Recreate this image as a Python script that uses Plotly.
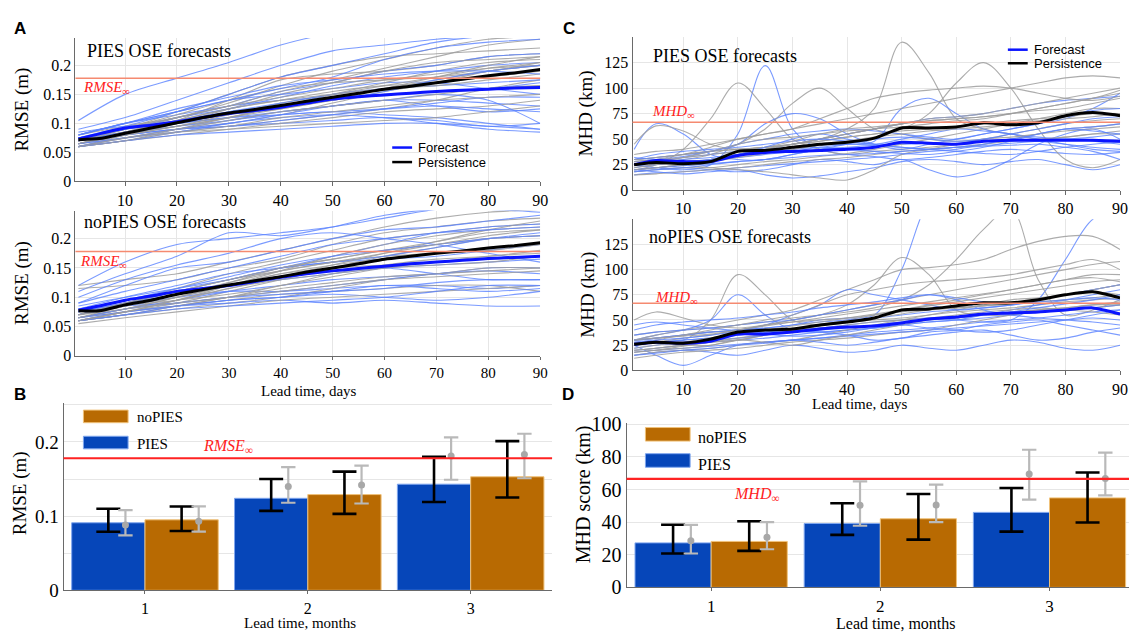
import plotly.graph_objects as go

W, H = 1137, 642

# ============================ DATA ============================
DAYS_MEAN = [1, 5, 10, 15, 20, 25, 30, 35, 40, 45, 50, 55, 60, 65, 70, 75, 80, 85, 90]
DAYS_RMSE_MEMBER = [1, 10, 20, 30, 40, 50, 60, 70, 80, 90]
DAYS_MHD_MEMBER = [1, 5, 10, 15, 20, 25, 30, 35, 40, 45, 50, 55, 60, 65, 70, 75, 80, 85, 90]
X_TICKS_DAYS = [10, 20, 30, 40, 50, 60, 70, 80, 90]

RMSE_INF = 0.178
MHD_INF = 66.5

# ---- Panel A, PIES OSE (RMSE, m) ----
A_PIES_FORECAST = [0.073, 0.082, 0.092, 0.097, 0.103, 0.110, 0.117, 0.122, 0.128, 0.135,
                   0.142, 0.146, 0.149, 0.152, 0.155, 0.157, 0.159, 0.161, 0.162]
A_PIES_PERSIST = [0.072, 0.074, 0.083, 0.092, 0.101, 0.110, 0.118, 0.124, 0.131, 0.138,
                  0.145, 0.152, 0.159, 0.164, 0.170, 0.176, 0.182, 0.187, 0.193]
A_PIES_FC_MEMBERS = [
    [0.105, 0.150, 0.178, 0.205, 0.235, 0.255, 0.26, 0.26, 0.26, 0.26],
    [0.090, 0.110, 0.140, 0.170, 0.200, 0.225, 0.235, 0.245, 0.250, 0.250],
    [0.075, 0.095, 0.120, 0.150, 0.180, 0.200, 0.220, 0.240, 0.250, 0.250],
    [0.070, 0.090, 0.110, 0.130, 0.155, 0.170, 0.190, 0.200, 0.215, 0.220],
    [0.080, 0.100, 0.120, 0.140, 0.150, 0.160, 0.170, 0.170, 0.160, 0.150],
    [0.065, 0.080, 0.095, 0.105, 0.120, 0.130, 0.140, 0.140, 0.135, 0.130],
    [0.070, 0.085, 0.100, 0.110, 0.115, 0.120, 0.115, 0.110, 0.100, 0.090],
    [0.060, 0.075, 0.085, 0.095, 0.100, 0.105, 0.110, 0.100, 0.090, 0.085],
    [0.080, 0.100, 0.115, 0.130, 0.140, 0.145, 0.150, 0.155, 0.160, 0.170],
    [0.065, 0.080, 0.090, 0.100, 0.115, 0.130, 0.140, 0.130, 0.120, 0.125],
    [0.075, 0.090, 0.110, 0.125, 0.145, 0.165, 0.180, 0.190, 0.200, 0.205],
    [0.070, 0.080, 0.090, 0.095, 0.105, 0.115, 0.125, 0.135, 0.145, 0.145],
    [0.085, 0.095, 0.100, 0.110, 0.120, 0.130, 0.140, 0.150, 0.140, 0.100],
    [0.060, 0.070, 0.080, 0.085, 0.090, 0.095, 0.100, 0.100, 0.095, 0.090],
    [0.080, 0.100, 0.120, 0.140, 0.160, 0.180, 0.210, 0.230, 0.240, 0.245],
    [0.070, 0.085, 0.100, 0.120, 0.135, 0.150, 0.160, 0.165, 0.170, 0.175],
    [0.065, 0.075, 0.090, 0.105, 0.115, 0.120, 0.125, 0.130, 0.125, 0.120],
    [0.075, 0.090, 0.105, 0.120, 0.130, 0.140, 0.155, 0.175, 0.190, 0.200],
    [0.060, 0.070, 0.085, 0.100, 0.110, 0.115, 0.110, 0.105, 0.095, 0.100],
    [0.080, 0.100, 0.125, 0.145, 0.165, 0.175, 0.185, 0.190, 0.190, 0.185],
]
A_PIES_PS_MEMBERS = [
    [0.065, 0.085, 0.110, 0.135, 0.165, 0.190, 0.210, 0.230, 0.245, 0.250],
    [0.070, 0.090, 0.120, 0.150, 0.180, 0.200, 0.215, 0.220, 0.225, 0.230],
    [0.060, 0.080, 0.105, 0.140, 0.175, 0.185, 0.190, 0.200, 0.215, 0.220],
    [0.065, 0.080, 0.100, 0.125, 0.150, 0.170, 0.190, 0.205, 0.210, 0.215],
    [0.070, 0.085, 0.095, 0.110, 0.130, 0.150, 0.170, 0.190, 0.205, 0.210],
    [0.060, 0.075, 0.090, 0.100, 0.115, 0.135, 0.155, 0.170, 0.190, 0.200],
    [0.065, 0.080, 0.090, 0.095, 0.105, 0.115, 0.125, 0.140, 0.160, 0.175],
    [0.075, 0.090, 0.100, 0.115, 0.125, 0.140, 0.150, 0.155, 0.160, 0.165],
    [0.060, 0.070, 0.080, 0.090, 0.100, 0.110, 0.120, 0.125, 0.130, 0.140],
    [0.070, 0.085, 0.105, 0.125, 0.140, 0.155, 0.165, 0.170, 0.180, 0.190],
    [0.065, 0.075, 0.085, 0.090, 0.095, 0.100, 0.105, 0.110, 0.120, 0.130],
    [0.080, 0.095, 0.110, 0.130, 0.155, 0.175, 0.195, 0.215, 0.235, 0.245],
    [0.060, 0.070, 0.090, 0.110, 0.130, 0.145, 0.160, 0.175, 0.190, 0.200],
    [0.070, 0.090, 0.115, 0.140, 0.160, 0.170, 0.175, 0.180, 0.190, 0.205],
    [0.065, 0.080, 0.095, 0.115, 0.135, 0.150, 0.165, 0.180, 0.195, 0.205],
    [0.070, 0.090, 0.110, 0.130, 0.145, 0.160, 0.175, 0.185, 0.195, 0.200],
    [0.060, 0.075, 0.090, 0.105, 0.120, 0.130, 0.140, 0.150, 0.160, 0.165],
    [0.065, 0.085, 0.105, 0.125, 0.140, 0.150, 0.160, 0.165, 0.175, 0.185],
    [0.070, 0.080, 0.095, 0.110, 0.125, 0.140, 0.160, 0.180, 0.200, 0.215],
    [0.060, 0.070, 0.085, 0.095, 0.110, 0.120, 0.130, 0.140, 0.145, 0.150],
]

# ---- Panel A, noPIES OSE (RMSE, m) ----
A_NOPIES_FORECAST = [0.078, 0.085, 0.095, 0.102, 0.110, 0.115, 0.120, 0.127, 0.134, 0.140,
                     0.145, 0.149, 0.153, 0.157, 0.160, 0.163, 0.166, 0.168, 0.170]
A_NOPIES_PERSIST = [0.077, 0.077, 0.087, 0.095, 0.105, 0.113, 0.121, 0.128, 0.135, 0.143,
                    0.150, 0.157, 0.165, 0.170, 0.175, 0.179, 0.184, 0.188, 0.193]
A_NOPIES_FC_MEMBERS = [
    [0.120, 0.160, 0.190, 0.200, 0.210, 0.220, 0.235, 0.250, 0.255, 0.260],
    [0.110, 0.140, 0.170, 0.210, 0.205, 0.220, 0.240, 0.250, 0.250, 0.245],
    [0.090, 0.120, 0.150, 0.160, 0.180, 0.200, 0.215, 0.220, 0.230, 0.240],
    [0.070, 0.090, 0.110, 0.130, 0.150, 0.170, 0.190, 0.210, 0.220, 0.225],
    [0.080, 0.100, 0.120, 0.140, 0.150, 0.160, 0.165, 0.170, 0.180, 0.190],
    [0.065, 0.080, 0.095, 0.110, 0.120, 0.130, 0.135, 0.140, 0.150, 0.150],
    [0.070, 0.085, 0.100, 0.110, 0.110, 0.115, 0.120, 0.120, 0.115, 0.120],
    [0.060, 0.075, 0.085, 0.090, 0.095, 0.090, 0.095, 0.090, 0.085, 0.085],
    [0.075, 0.095, 0.110, 0.120, 0.135, 0.145, 0.150, 0.140, 0.130, 0.130],
    [0.065, 0.075, 0.085, 0.095, 0.100, 0.105, 0.100, 0.095, 0.100, 0.110],
    [0.085, 0.100, 0.115, 0.130, 0.150, 0.160, 0.170, 0.185, 0.200, 0.210],
    [0.070, 0.085, 0.090, 0.100, 0.110, 0.120, 0.130, 0.140, 0.145, 0.140],
    [0.100, 0.130, 0.155, 0.175, 0.200, 0.210, 0.200, 0.190, 0.175, 0.160],
    [0.060, 0.070, 0.080, 0.085, 0.090, 0.095, 0.100, 0.110, 0.120, 0.120],
    [0.075, 0.090, 0.105, 0.120, 0.130, 0.140, 0.150, 0.155, 0.160, 0.165],
    [0.065, 0.080, 0.090, 0.100, 0.105, 0.110, 0.115, 0.125, 0.130, 0.130],
    [0.080, 0.095, 0.115, 0.135, 0.155, 0.170, 0.180, 0.190, 0.200, 0.205],
    [0.060, 0.070, 0.085, 0.095, 0.100, 0.110, 0.120, 0.115, 0.110, 0.115],
    [0.090, 0.110, 0.130, 0.150, 0.170, 0.190, 0.200, 0.210, 0.215, 0.220],
]
A_NOPIES_PS_MEMBERS = [
    [0.120, 0.130, 0.140, 0.160, 0.180, 0.200, 0.220, 0.235, 0.245, 0.250],
    [0.115, 0.120, 0.130, 0.150, 0.165, 0.190, 0.210, 0.220, 0.230, 0.235],
    [0.070, 0.090, 0.115, 0.140, 0.160, 0.180, 0.200, 0.210, 0.220, 0.225],
    [0.065, 0.080, 0.100, 0.125, 0.150, 0.165, 0.180, 0.195, 0.210, 0.215],
    [0.060, 0.075, 0.090, 0.110, 0.130, 0.150, 0.170, 0.185, 0.200, 0.205],
    [0.070, 0.085, 0.095, 0.105, 0.120, 0.140, 0.155, 0.165, 0.170, 0.180],
    [0.060, 0.070, 0.080, 0.090, 0.100, 0.115, 0.130, 0.140, 0.150, 0.150],
    [0.065, 0.075, 0.085, 0.095, 0.105, 0.110, 0.115, 0.120, 0.120, 0.110],
    [0.075, 0.090, 0.110, 0.130, 0.145, 0.160, 0.170, 0.175, 0.180, 0.190],
    [0.060, 0.070, 0.085, 0.100, 0.120, 0.135, 0.150, 0.160, 0.165, 0.170],
    [0.065, 0.080, 0.095, 0.115, 0.135, 0.155, 0.175, 0.195, 0.215, 0.230],
    [0.055, 0.065, 0.075, 0.085, 0.095, 0.100, 0.105, 0.110, 0.115, 0.120],
    [0.070, 0.085, 0.100, 0.120, 0.140, 0.150, 0.155, 0.160, 0.170, 0.175],
    [0.060, 0.075, 0.095, 0.120, 0.145, 0.170, 0.190, 0.205, 0.215, 0.220],
    [0.065, 0.080, 0.100, 0.120, 0.140, 0.155, 0.165, 0.175, 0.185, 0.190],
    [0.070, 0.090, 0.110, 0.130, 0.150, 0.165, 0.180, 0.190, 0.200, 0.205],
    [0.060, 0.070, 0.085, 0.100, 0.115, 0.125, 0.135, 0.140, 0.145, 0.150],
    [0.065, 0.085, 0.105, 0.125, 0.145, 0.160, 0.175, 0.190, 0.205, 0.215],
    [0.070, 0.080, 0.090, 0.100, 0.110, 0.120, 0.130, 0.135, 0.140, 0.145],
    [0.060, 0.075, 0.095, 0.115, 0.130, 0.140, 0.150, 0.155, 0.160, 0.170],
]

# ---- Panel C, PIES OSE (MHD, km) ----
C_PIES_FORECAST = [25, 29, 28, 28, 34, 37, 38, 39, 40, 42, 47, 46, 45, 48, 49, 49, 49, 49, 48]
C_PIES_PERSIST = [25, 27, 26, 28, 38, 39, 42, 45, 47, 51, 61, 61, 62, 66, 64, 66, 73, 76, 73]
C_PIES_FC_MEMBERS = [
    [25, 22, 20, 25, 55, 122, 60, 40, 35, 33, 30, 32, 35, 38, 40, 38, 36, 35, 37],
    [40, 65, 55, 35, 30, 30, 35, 40, 42, 44, 45, 46, 45, 44, 46, 48, 50, 52, 55],
    [30, 32, 35, 38, 45, 65, 75, 70, 55, 45, 40, 45, 50, 55, 60, 65, 70, 80, 95],
    [20, 22, 25, 30, 35, 40, 45, 50, 55, 60, 65, 70, 72, 75, 80, 85, 88, 90, 92],
    [18, 20, 22, 20, 18, 20, 25, 30, 28, 25, 30, 20, 13, 18, 30, 45, 55, 60, 50],
    [22, 25, 28, 30, 32, 35, 38, 42, 45, 48, 80, 90, 75, 60, 55, 52, 50, 48, 45],
    [25, 28, 32, 35, 38, 40, 42, 44, 45, 44, 42, 40, 38, 36, 35, 38, 42, 45, 47],
    [15, 17, 18, 20, 22, 24, 26, 28, 30, 32, 35, 38, 40, 45, 50, 55, 60, 62, 65],
    [28, 30, 33, 38, 45, 50, 55, 58, 60, 58, 55, 52, 50, 55, 60, 65, 72, 78, 80],
    [20, 18, 16, 18, 20, 15, 12, 14, 18, 22, 28, 30, 28, 25, 28, 30, 25, 20, 25],
    [30, 35, 38, 40, 42, 45, 48, 50, 48, 45, 50, 55, 60, 58, 55, 50, 45, 40, 38],
    [18, 20, 22, 25, 28, 30, 32, 34, 35, 36, 38, 40, 42, 43, 44, 45, 42, 38, 30],
    [25, 27, 30, 32, 35, 38, 40, 42, 40, 38, 36, 35, 38, 42, 48, 55, 60, 58, 55],
    [20, 22, 24, 26, 28, 30, 35, 40, 45, 50, 52, 50, 48, 50, 55, 60, 65, 70, 72],
    [32, 30, 28, 30, 35, 42, 50, 55, 50, 45, 42, 40, 42, 45, 50, 48, 45, 42, 40],
]
C_PIES_PS_MEMBERS = [
    [30, 32, 35, 38, 40, 42, 45, 50, 60, 80, 145, 115, 70, 60, 55, 50, 52, 55, 58],
    [20, 25, 40, 70, 105, 80, 50, 40, 35, 38, 40, 42, 45, 48, 50, 55, 60, 62, 65],
    [25, 28, 30, 35, 45, 60, 85, 100, 80, 60, 55, 50, 48, 50, 55, 60, 65, 68, 70],
    [30, 32, 35, 38, 40, 42, 45, 48, 52, 55, 60, 75, 105, 125, 100, 60, 30, 22, 30],
    [45, 63, 58, 45, 40, 42, 45, 48, 52, 55, 58, 60, 62, 65, 68, 70, 72, 75, 75],
    [25, 30, 35, 42, 50, 55, 60, 65, 70, 75, 80, 85, 90, 95, 100, 105, 110, 112, 110],
    [20, 22, 25, 30, 35, 40, 45, 50, 55, 60, 65, 70, 72, 75, 80, 85, 90, 95, 100],
    [18, 20, 22, 22, 25, 28, 30, 33, 36, 40, 45, 50, 55, 60, 65, 70, 75, 80, 80],
    [15, 16, 18, 20, 22, 25, 28, 30, 32, 35, 38, 40, 42, 45, 48, 50, 52, 55, 55],
    [22, 25, 28, 30, 35, 40, 45, 50, 55, 60, 65, 68, 70, 72, 75, 78, 80, 85, 90],
    [30, 28, 25, 22, 20, 18, 15, 12, 10, 20, 35, 40, 45, 50, 52, 55, 58, 60, 62],
    [35, 38, 40, 45, 50, 55, 60, 70, 80, 90, 95, 98, 100, 102, 100, 95, 90, 88, 92],
    [28, 30, 32, 35, 38, 42, 48, 55, 60, 62, 65, 68, 70, 72, 75, 80, 85, 90, 95],
    [20, 22, 25, 28, 32, 36, 40, 44, 48, 52, 55, 58, 60, 62, 65, 68, 70, 72, 75],
    [25, 28, 32, 38, 45, 50, 52, 55, 58, 60, 62, 65, 68, 70, 75, 80, 85, 90, 98],
]

# ---- Panel C, noPIES OSE (MHD, km) ----
C_NOPIES_FORECAST = [26, 28, 27, 29, 36, 36, 38, 41, 43, 44, 47, 51, 53, 56, 57, 58, 60, 62, 56]
C_NOPIES_PERSIST = [26, 28, 27, 31, 38, 40, 41, 45, 48, 52, 60, 61, 64, 67, 67, 70, 75, 78, 72]
C_NOPIES_FC_MEMBERS = [
    [30, 32, 35, 38, 40, 42, 45, 50, 52, 55, 100, 170, 200, 200, 200, 200, 200, 200, 200],
    [25, 28, 30, 32, 35, 38, 40, 42, 45, 48, 50, 52, 50, 48, 50, 70, 110, 150, 160],
    [30, 35, 40, 50, 75, 55, 40, 38, 40, 42, 45, 48, 50, 52, 55, 58, 60, 62, 65],
    [25, 15, 5, 15, 25, 28, 30, 32, 35, 38, 40, 42, 45, 48, 50, 52, 55, 58, 60],
    [45, 48, 45, 42, 40, 45, 55, 65, 80, 75, 70, 65, 60, 62, 65, 70, 75, 80, 85],
    [20, 22, 25, 28, 30, 32, 35, 38, 40, 42, 45, 48, 50, 55, 60, 65, 70, 75, 80],
    [15, 18, 20, 18, 15, 20, 25, 22, 18, 20, 25, 22, 20, 25, 30, 28, 22, 20, 25],
    [35, 38, 40, 42, 45, 48, 50, 55, 60, 65, 70, 75, 72, 68, 65, 70, 75, 80, 85],
    [25, 28, 30, 32, 35, 38, 40, 38, 35, 30, 32, 38, 40, 45, 48, 50, 45, 40, 35],
    [30, 32, 35, 38, 40, 42, 45, 48, 50, 52, 55, 58, 60, 62, 65, 68, 70, 72, 70],
    [18, 20, 22, 24, 26, 28, 30, 32, 34, 36, 38, 40, 42, 44, 46, 48, 50, 52, 50],
    [40, 45, 48, 50, 52, 55, 58, 62, 65, 68, 72, 75, 70, 60, 55, 52, 50, 48, 45],
    [22, 25, 28, 30, 32, 35, 38, 40, 42, 45, 48, 50, 52, 55, 58, 62, 66, 70, 75],
    [28, 30, 32, 35, 38, 36, 34, 35, 38, 42, 45, 42, 40, 38, 40, 45, 50, 55, 60],
    [15, 17, 20, 22, 25, 27, 30, 28, 25, 28, 32, 35, 38, 40, 35, 30, 32, 38, 42],
]
C_NOPIES_PS_MEMBERS = [
    [25, 28, 30, 50, 95, 75, 50, 45, 48, 50, 52, 55, 58, 60, 62, 65, 68, 70, 72],
    [30, 32, 35, 38, 40, 45, 50, 55, 65, 85, 112, 95, 60, 55, 55, 58, 60, 62, 65],
    [35, 38, 40, 42, 45, 48, 52, 55, 58, 62, 70, 85, 110, 140, 160, 90, 55, 60, 70],
    [30, 35, 40, 45, 50, 55, 60, 70, 80, 90, 100, 102, 105, 110, 120, 128, 133, 133, 120],
    [25, 28, 32, 35, 40, 45, 50, 55, 60, 65, 70, 75, 80, 85, 90, 95, 100, 105, 108],
    [20, 22, 25, 28, 30, 35, 40, 45, 50, 55, 60, 65, 70, 75, 80, 85, 90, 95, 95],
    [15, 18, 20, 22, 25, 28, 30, 35, 40, 45, 50, 55, 60, 65, 70, 72, 75, 78, 75],
    [12, 15, 18, 20, 22, 25, 28, 30, 32, 35, 38, 40, 45, 50, 55, 60, 62, 65, 65],
    [50, 58, 52, 45, 42, 45, 48, 50, 52, 55, 58, 60, 62, 64, 66, 68, 70, 72, 75],
    [20, 22, 25, 25, 30, 35, 40, 42, 45, 48, 50, 52, 55, 58, 60, 62, 60, 58, 55],
    [25, 30, 35, 40, 45, 50, 55, 65, 75, 80, 85, 88, 90, 92, 95, 100, 105, 110, 100],
    [18, 20, 22, 25, 30, 28, 25, 30, 35, 40, 45, 50, 52, 55, 58, 60, 62, 65, 68],
    [22, 25, 28, 32, 36, 40, 44, 48, 52, 56, 60, 64, 68, 72, 76, 80, 84, 88, 90],
    [18, 20, 24, 28, 32, 36, 40, 44, 48, 52, 56, 60, 62, 64, 66, 70, 75, 80, 85],
    [30, 32, 34, 36, 40, 44, 48, 52, 56, 60, 64, 68, 72, 76, 80, 85, 90, 92, 88],
]

# ---- Panel B (RMSE, m) by lead month ----
MONTHS = [1, 2, 3]
B_PIES_VALUE = [0.091, 0.124, 0.143]
B_PIES_HI = [0.110, 0.150, 0.180]
B_PIES_LO = [0.079, 0.107, 0.119]
B_NOPIES_VALUE = [0.095, 0.129, 0.153]
B_NOPIES_HI = [0.113, 0.160, 0.201]
B_NOPIES_LO = [0.080, 0.103, 0.125]
B_PIES_PERS = [0.088, 0.140, 0.181]
B_PIES_PERS_HI = [0.108, 0.166, 0.206]
B_PIES_PERS_LO = [0.074, 0.118, 0.149]
B_NOPIES_PERS = [0.093, 0.142, 0.183]
B_NOPIES_PERS_HI = [0.113, 0.168, 0.211]
B_NOPIES_PERS_LO = [0.079, 0.117, 0.151]

# ---- Panel D (MHD score, km) by lead month ----
D_PIES_VALUE = [27.3, 39.2, 46.0]
D_PIES_HI = [38.4, 51.6, 61.0]
D_PIES_LO = [20.8, 32.2, 34.2]
D_NOPIES_VALUE = [28.2, 42.1, 54.9]
D_NOPIES_HI = [40.6, 57.3, 70.5]
D_NOPIES_LO = [22.4, 29.3, 39.8]
D_PIES_PERS = [28.6, 50.4, 69.6]
D_PIES_PERS_HI = [38.4, 65.0, 84.4]
D_PIES_PERS_LO = [20.8, 37.8, 53.8]
D_NOPIES_PERS = [30.8, 50.6, 66.8]
D_NOPIES_PERS_HI = [40.0, 63.0, 82.6]
D_NOPIES_PERS_LO = [23.4, 40.0, 56.4]

# ============================ STYLE ============================
SERIF = "Liberation Serif"
SANS = "Liberation Sans"
BLUE_THIN = "rgba(90,130,255,0.80)"
GRAY_THIN = "rgba(158,158,158,0.85)"
BLUE_MEAN = "#0a14ff"
BLACK = "#000000"
BAR_BLUE = "#0646b9"
BAR_ORANGE = "#b86a02"
RED_THIN = "#f58a70"
RED = "#ff2222"
GRID = "#e6e6e6"
AXIS = "#6a6a6a"
PERS_ERR = "#b9b9b9"
PERS_OFFSET = 0.105
BAR_W = 0.45


def px(x):
    return x / W


def py(y):
    return 1 - y / H


fig = go.Figure()


def add_spaghetti(xa, ya, x_member, fc_members, ps_members, mean_fc, mean_ps, smooth):
    n = max(len(fc_members), len(ps_members))
    for i in range(n):
        if i < len(fc_members):
            fig.add_trace(go.Scatter(
                x=x_member, y=fc_members[i], mode="lines", xaxis=xa, yaxis=ya,
                line=dict(color=BLUE_THIN, width=1.1, shape="spline", smoothing=smooth),
                showlegend=False, hoverinfo="skip"))
        if i < len(ps_members):
            fig.add_trace(go.Scatter(
                x=x_member, y=ps_members[i], mode="lines", xaxis=xa, yaxis=ya,
                line=dict(color=GRAY_THIN, width=1.1, shape="spline", smoothing=smooth),
                showlegend=False, hoverinfo="skip"))
    fig.add_trace(go.Scatter(
        x=DAYS_MEAN, y=mean_fc, mode="lines", xaxis=xa, yaxis=ya, name="Forecast",
        line=dict(color=BLUE_MEAN, width=3, shape="spline", smoothing=0.6),
        showlegend=False))
    fig.add_trace(go.Scatter(
        x=DAYS_MEAN, y=mean_ps, mode="lines", xaxis=xa, yaxis=ya, name="Persistence",
        line=dict(color=BLACK, width=3, shape="spline", smoothing=0.6),
        showlegend=False))


add_spaghetti("x", "y", DAYS_RMSE_MEMBER, A_PIES_FC_MEMBERS, A_PIES_PS_MEMBERS,
              A_PIES_FORECAST, A_PIES_PERSIST, 0.8)
add_spaghetti("x2", "y2", DAYS_RMSE_MEMBER, A_NOPIES_FC_MEMBERS, A_NOPIES_PS_MEMBERS,
              A_NOPIES_FORECAST, A_NOPIES_PERSIST, 0.8)
add_spaghetti("x3", "y3", DAYS_MHD_MEMBER, C_PIES_FC_MEMBERS, C_PIES_PS_MEMBERS,
              C_PIES_FORECAST, C_PIES_PERSIST, 1.0)
add_spaghetti("x4", "y4", DAYS_MHD_MEMBER, C_NOPIES_FC_MEMBERS, C_NOPIES_PS_MEMBERS,
              C_NOPIES_FORECAST, C_NOPIES_PERSIST, 1.0)


def add_bars(xa, ya, pies, pies_hi, pies_lo, nopies, nopies_hi, nopies_lo,
             pp, pp_hi, pp_lo, np_, np_hi, np_lo, cap):
    for name, vals, hi, lo, color, edge, off in [
        ("PIES", pies, pies_hi, pies_lo, BAR_BLUE, "#7fa6ee", -BAR_W),
        ("noPIES", nopies, nopies_hi, nopies_lo, BAR_ORANGE, "#f0c27a", 0.0),
    ]:
        fig.add_trace(go.Bar(
            x=MONTHS, y=vals, width=BAR_W, offset=off, xaxis=xa, yaxis=ya, name=name,
            marker=dict(color=color, line=dict(color=edge, width=1)),
            error_y=dict(type="data", symmetric=False,
                         array=[h - v for h, v in zip(hi, vals)],
                         arrayminus=[v - l for v, l in zip(vals, lo)],
                         color="black", thickness=2.6, width=cap),
            showlegend=False))
    for vals, hi, lo, shift in [(pp, pp_hi, pp_lo, -BAR_W / 2 + PERS_OFFSET),
                                (np_, np_hi, np_lo, BAR_W / 2 + PERS_OFFSET)]:
        fig.add_trace(go.Scatter(
            x=[m + shift for m in MONTHS], y=vals, mode="markers", xaxis=xa, yaxis=ya,
            marker=dict(color="#a8a8a8", size=7),
            error_y=dict(type="data", symmetric=False,
                         array=[h - v for h, v in zip(hi, vals)],
                         arrayminus=[v - l for v, l in zip(vals, lo)],
                         color=PERS_ERR, thickness=2.2, width=cap * 0.6),
            showlegend=False, hoverinfo="skip"))


add_bars("x5", "y5", B_PIES_VALUE, B_PIES_HI, B_PIES_LO, B_NOPIES_VALUE, B_NOPIES_HI,
         B_NOPIES_LO, B_PIES_PERS, B_PIES_PERS_HI, B_PIES_PERS_LO, B_NOPIES_PERS,
         B_NOPIES_PERS_HI, B_NOPIES_PERS_LO, 12)
add_bars("x6", "y6", D_PIES_VALUE, D_PIES_HI, D_PIES_LO, D_NOPIES_VALUE, D_NOPIES_HI,
         D_NOPIES_LO, D_PIES_PERS, D_PIES_PERS_HI, D_PIES_PERS_LO, D_NOPIES_PERS,
         D_NOPIES_PERS_HI, D_NOPIES_PERS_LO, 12)


# ============================ AXES ============================
def xax(left, right, rng, tickvals, anchor, size, grid=True, ticklen=4):
    return dict(domain=[px(left), px(right)], range=rng, anchor=anchor,
                tickvals=tickvals, showgrid=grid, gridcolor=GRID, gridwidth=1,
                showline=True, linecolor=AXIS, linewidth=1, zeroline=False,
                ticks="outside", ticklen=ticklen, tickcolor=AXIS,
                tickfont=dict(family=SERIF, size=size, color="black"))


def yax(top, bottom, rng, tickvals, anchor, size, minor_dtick=None):
    d = dict(domain=[py(bottom), py(top)], range=rng, anchor=anchor,
             tickvals=tickvals, ticktext=[("%g" % v) for v in tickvals],
             showgrid=True, gridcolor=GRID,
             showline=True, linecolor=AXIS, linewidth=1, zeroline=False,
             ticks="", tickfont=dict(family=SERIF, size=size, color="black"))
    if minor_dtick is not None:
        d["minor"] = dict(dtick=minor_dtick, tick0=0, showgrid=True, gridcolor=GRID,
                          ticks="")
    return d


RMSE_TV = [0, 0.05, 0.1, 0.15, 0.2]
MHD_TV = [0, 25, 50, 75, 100, 125]

fig.update_layout(
    xaxis=xax(76, 544, [0.43, 90], X_TICKS_DAYS, "y", 16),
    yaxis=yax(30, 178, [0, 0.247], RMSE_TV, "x", 16),
    xaxis2=xax(76, 544, [0.43, 90], X_TICKS_DAYS, "y2", 15, ticklen=3),
    yaxis2=yax(208, 358, [0, 0.248], RMSE_TV, "x2", 16),
    xaxis3=xax(637, 1128, [0.7, 90], X_TICKS_DAYS, "y3", 16),
    yaxis3=yax(29, 187, [0, 150], MHD_TV, "x3", 16),
    xaxis4=xax(637, 1128, [0.7, 90], X_TICKS_DAYS, "y4", 16),
    yaxis4=yax(217, 373, [0, 150], MHD_TV, "x4", 16),
    xaxis5=xax(64, 556, [0.5, 3.5], MONTHS, "y5", 16, grid=False, ticklen=3),
    yaxis5=yax(407, 600, [0, 0.252], [0, 0.1, 0.2], "x5", 19, minor_dtick=0.05),
    xaxis6=xax(631, 1137, [0.5, 3.47], MONTHS, "y6", 17, grid=False, ticklen=3),
    yaxis6=yax(427, 597, [0, 101], [0, 20, 40, 60, 80, 100], "x6", 20),
    barmode="overlay",
    width=W, height=H, margin=dict(l=0, r=0, t=0, b=0),
    paper_bgcolor="white", plot_bgcolor="white", showlegend=False,
)

# ============================ SHAPES ============================
shapes = []
for xr, yr, val, color, wdt in [("x", "y", RMSE_INF, RED_THIN, 1.5),
                                ("x2", "y2", RMSE_INF, RED_THIN, 1.5),
                                ("x3", "y3", MHD_INF, RED_THIN, 1.5),
                                ("x4", "y4", MHD_INF, RED_THIN, 1.5),
                                ("x5", "y5", RMSE_INF, RED, 2.2),
                                ("x6", "y6", MHD_INF, RED, 2.2)]:
    shapes.append(dict(type="line", xref=xr + " domain", yref=yr, x0=0, x1=1,
                       y0=val, y1=val, line=dict(color=color, width=wdt), layer="above"))

# legend samples for A and C (Forecast / Persistence)
for (lx0, lx1, y1, y2) in [(395, 415, 143, 158), (1015, 1035, 42, 56)]:
    shapes.append(dict(type="line", xref="paper", yref="paper", x0=px(lx0), x1=px(lx1),
                       y0=py(y1), y1=py(y1), line=dict(color=BLUE_MEAN, width=2.5)))
    shapes.append(dict(type="line", xref="paper", yref="paper", x0=px(lx0), x1=px(lx1),
                       y0=py(y2), y1=py(y2), line=dict(color=BLACK, width=2.5)))

# legend boxes for B and D
for (bx0, bx1, oy0, oy1, by0, by1) in [(84, 129, 414, 427, 441, 454),
                                       (650, 695, 432, 446, 459, 473)]:
    shapes.append(dict(type="rect", xref="paper", yref="paper", x0=px(bx0), x1=px(bx1),
                       y0=py(oy1), y1=py(oy0), fillcolor=BAR_ORANGE,
                       line=dict(color="#f0c27a", width=1)))
    shapes.append(dict(type="rect", xref="paper", yref="paper", x0=px(bx0), x1=px(bx1),
                       y0=py(by1), y1=py(by0), fillcolor=BAR_BLUE,
                       line=dict(color="#7fa6ee", width=1)))
fig.update_layout(shapes=shapes)

# ============================ TEXT ============================
anns = []


def ann(text, x, y, size, family=SERIF, color="black", xanchor="center", angle=0):
    anns.append(dict(text=text, x=px(x), y=py(y), xref="paper", yref="paper",
                     showarrow=False, xanchor=xanchor, yanchor="middle",
                     textangle=angle, font=dict(family=family, size=size, color=color)))


for letter, x, y in [("A", 20, 20), ("C", 573, 20), ("B", 20, 398), ("D", 572, 398)]:
    ann("<b>" + letter + "</b>", x, y, 17, family=SANS)

ann("PIES OSE forecasts", 86, 43, 18, xanchor="left")
ann("noPIES OSE forecasts", 83, 220, 18, xanchor="left")
ann("PIES OSE forecasts", 656, 48, 18, xanchor="left")
ann("noPIES OSE forecasts", 652, 235, 18, xanchor="left")

RMSE_LBL = "<i>RMSE</i><sub>∞</sub>"
MHD_LBL = "<i>MHD</i><sub>∞</sub>"
ann(RMSE_LBL, 82, 82, 15, color=RED, xanchor="left")
ann(RMSE_LBL, 79, 261, 15, color=RED, xanchor="left")
ann(MHD_LBL, 655, 106, 15, color=RED, xanchor="left")
ann(MHD_LBL, 658, 298, 15, color=RED, xanchor="left")
ann(RMSE_LBL, 230, 452, 16, color=RED)
ann(MHD_LBL, 762, 501, 16, color=RED)

ann("Forecast", 419, 143, 13, family=SANS, xanchor="left")
ann("Persistence", 419, 158, 13, family=SANS, xanchor="left")
ann("Forecast", 1039, 42, 13, family=SANS, xanchor="left")
ann("Persistence", 1039, 56, 13, family=SANS, xanchor="left")

ann("noPIES", 136, 421, 15, xanchor="left")
ann("PIES", 136, 449, 15, xanchor="left")
ann("noPIES", 701, 442, 16, xanchor="left")
ann("PIES", 701, 470, 16, xanchor="left")

ann("RMSE (m)", 22, 104, 19, angle=-90)
ann("RMSE (m)", 22, 283, 19, angle=-90)
ann("MHD (km)", 590, 108, 19, angle=-90)
ann("MHD (km)", 592, 295, 19, angle=-90)
ann("RMSE (m)", 21, 500, 19, angle=-90)
ann("MHD score (km)", 588, 501, 20, angle=-90)

ann("Lead time, days", 311, 394, 15)
ann("Lead time, days", 866, 408, 15)
ann("Lead time, months", 302, 634, 15)
ann("Lead time, months", 902, 634, 16)

fig.update_layout(annotations=anns)

fig.write_html("out.html")
